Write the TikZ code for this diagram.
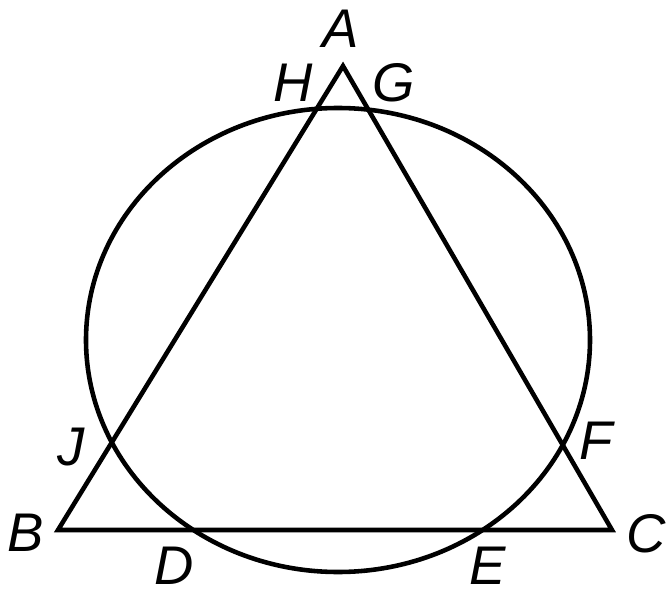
\documentclass[tikz,border=0pt]{standalone}
\usepackage{fontspec}
\setmainfont{Liberation Sans}
\tikzset{
	lbl/.style={inner sep=0pt, font=\fontsize{31}{34}\selectfont\itshape}
}
\begin{document}
\begin{tikzpicture}[x=0.02cm, y=-0.02cm, line width=2.6pt]
	\useasboundingbox (0,0) rectangle (667,595);
	\coordinate (A) at (343,66);
	\coordinate (B) at (58,530);
	\coordinate (C) at (612,530);
	\draw (A) -- (B) -- (C) -- cycle;
	\draw (338,340) ellipse [x radius=252, y radius=232];
	\node[lbl] (a) at (341,29) {A};
	\node[lbl] (h) at (293,83) {H};
	\node[lbl] (g) at (394,83) {G};
	\node[lbl] (j) at (71,447) {J};
	\node[lbl] (f) at (596,441) {F};
	\node[lbl] (b) at (26,533) {B};
	\node[lbl] (c) at (646,534) {C};
	\node[lbl] (d) at (174,566) {D};
	\node[lbl] (e) at (488,566) {E};
\end{tikzpicture}
\end{document}
